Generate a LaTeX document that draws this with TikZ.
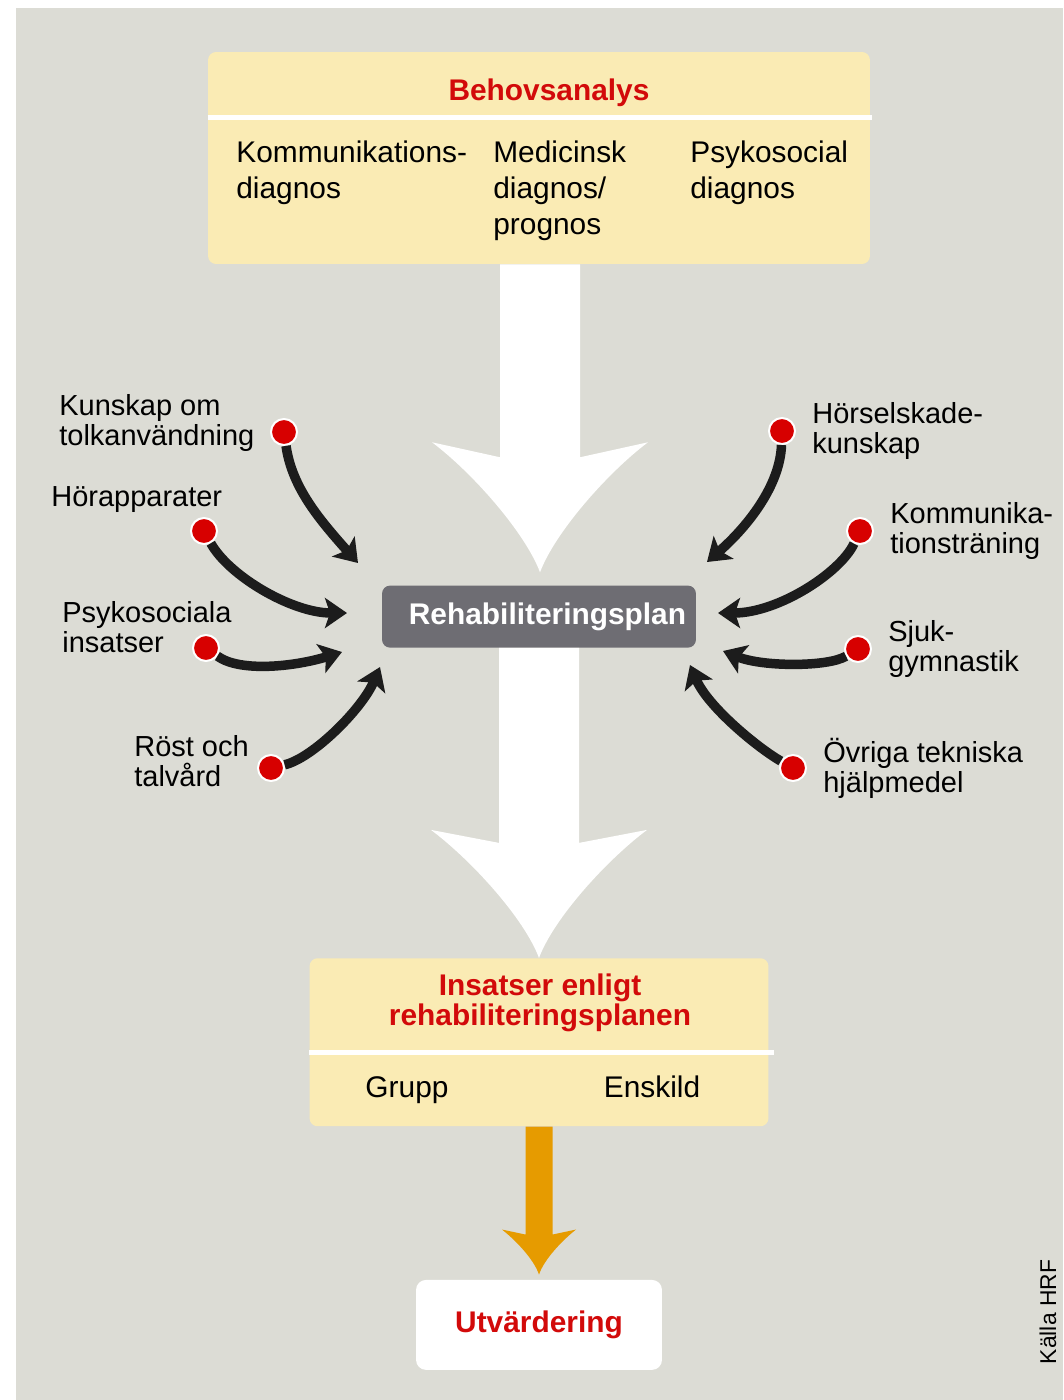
\documentclass[tikz,border=0pt]{standalone}
\usepackage{fontspec}
\setmainfont{Liberation Sans}
\usepackage{tikz}
\usetikzlibrary{positioning, calc, arrows.meta}
\definecolor{hrfGray}{RGB}{220,220,213}
\definecolor{hrfYellow}{RGB}{250,235,180}
\definecolor{hrfRed}{RGB}{210,10,10}
\definecolor{hrfSlate}{RGB}{110,109,115}
\definecolor{hrfDot}{RGB}{215,0,0}
\definecolor{hrfGold}{RGB}{230,155,0}
\definecolor{hrfInk}{RGB}{28,28,28}

\begin{document}
\begin{tikzpicture}[
    x=0.02cm, y=-0.02cm,
    panel/.style={rectangle, fill=hrfYellow, rounded corners=0.16cm, inner sep=0pt},
    heading/.style={text=hrfRed, inner sep=0pt, font=\fontsize{17}{17.5}\selectfont\bfseries},
    colText/.style={anchor=north west, align=left, inner sep=0pt,
                    font=\fontsize{17}{20.5}\selectfont},
    plan/.style={rectangle, fill=hrfSlate, rounded corners=0.16cm, minimum width=6.28cm,
                 minimum height=1.24cm, text=white, font=\fontsize{17}{17}\selectfont\bfseries},
    topic/.style={align=left, inner sep=0pt, font=\fontsize{16.5}{17}\selectfont},
    redDot/.style={circle, fill=hrfDot, draw=white, line width=0.04cm,
                   minimum size=0.52cm, inner sep=0pt},
    feed/.style={draw=hrfInk, line width=0.19cm,
                 -{Stealth[length=0.44cm, width=0.6cm, inset=0.1cm]}},
  ]
    \fill[white] (0,0) rectangle (1063,1400);
    \fill[hrfGray] (16,8) rectangle (1063,1400);
    \useasboundingbox (0,0) rectangle (1063,1400);

    \node[panel, minimum width=13.24cm, minimum height=4.24cm] (NEED) at (539,158) {};
    \node[plan, below=6.42cm of NEED] (PLAN) {\hspace*{0.34cm}Rehabiliteringsplan};
    \node[panel, minimum width=9.18cm, minimum height=3.36cm, below=6.2cm of PLAN] (ACTS) {};
    \node[panel, fill=white, rounded corners=0.2cm, minimum width=4.92cm, minimum height=1.8cm,
          text=hrfRed, font=\fontsize{17}{17}\selectfont\bfseries,
          below=3.06cm of ACTS] (EVAL) {Utvärdering};

    % Behovsanalys
    \draw[white, line width=0.1cm] ($(NEED.north west)+(0,66)$) -- ($(NEED.north east)+(2,66)$);
    \node[heading, anchor=base] (NEEDT) at (549,100) {Behovsanalys};
    \node[colText] (C1) at (236,140) {Kommunikations-\\diagnos};
    \node[colText] (C2) at (493,140) {Medicinsk\\diagnos/\\prognos};
    \node[colText] (C3) at (690,140) {Psykosocial\\diagnos};

    % Insatser
    \draw[white, line width=0.1cm] ($(ACTS.north west)+(0,95)$) -- ($(ACTS.north east)+(5,95)$);
    \node[heading, align=center, anchor=north] (ACTST) at (540,973)
         {Insatser enligt\\rehabiliteringsplanen};
    \node[topic, anchor=base, font=\fontsize{17}{17}\selectfont] (GRP) at (407,1097) {Grupp};
    \node[topic, anchor=base, font=\fontsize{17}{17}\selectfont] (ENS) at (652,1097) {Enskild};

    % big white flow arrows
    \coordinate (T1) at ($(PLAN.north)+(1,-13)$);
    \coordinate (T2) at (ACTS.north);
    \fill[white] ($(NEED.south -| T1)+(-40,0)$) -- ($(T1)+(-40,-115)$) -- ($(T1)+(-108,-130)$)
        .. controls +(40,30) and +(-15,-40) .. (T1)
        .. controls +(15,-40) and +(-40,30) .. ($(T1)+(108,-130)$)
        -- ($(T1)+(40,-115)$) -- ($(NEED.south -| T1)+(40,0)$) -- cycle;
    \fill[white] ($(PLAN.south -| T2)+(-40,0)$) -- ($(T2)+(-40,-115)$) -- ($(T2)+(-108,-128)$)
        .. controls +(40,30) and +(-15,-40) .. (T2)
        .. controls +(15,-40) and +(-40,30) .. ($(T2)+(108,-128)$)
        -- ($(T2)+(40,-115)$) -- ($(PLAN.south -| T2)+(40,0)$) -- cycle;

    % orange arrow to Utvärdering
    \coordinate (T3) at ($(EVAL.north)+(0,-5)$);
    \fill[hrfGold] ($(ACTS.south -| T3)+(-13.5,0)$) -- ($(T3)+(-13.5,-40)$) -- ($(T3)+(-37,-45)$)
        .. controls +(14,11) and +(-5,-15) .. (T3)
        .. controls +(5,-15) and +(-14,11) .. ($(T3)+(37,-45)$)
        -- ($(T3)+(13.5,-40)$) -- ($(ACTS.south -| T3)+(13.5,0)$) -- cycle;

    % inputs
    \node[redDot] (L1) at (284,432) {};
    \node[redDot] (L2) at (204,531) {};
    \node[redDot] (L3) at (206,648) {};
    \node[redDot] (L4) at (271,768) {};
    \node[redDot] (R1) at (782,431) {};
    \node[redDot] (R2) at (860,531) {};
    \node[redDot] (R3) at (858,649) {};
    \node[redDot] (R4) at (793,768) {};

    \node[topic, anchor=west] (L1T) at (59,423) {Kunskap om\\tolkanvändning};
    \node[topic, anchor=west] (L2T) at (51,500) {Hörapparater};
    \node[topic, anchor=west] (L3T) at (62,627) {Psykosociala\\insatser};
    \node[topic, anchor=west] (L4T) at (134,761) {Röst och\\talvård};
    \node[topic, right=0.32cm of R1] (R1T) {Hörselskade-\\kunskap};
    \node[topic, right=0.32cm of R2] (R2T) {Kommunika-\\tionsträning};
    \node[topic, right=0.32cm of R3] (R3T) {Sjuk-\\gymnastik};
    \node[topic, right=0.32cm of R4] (R4T) {Övriga tekniska\\hjälpmedel};

    \coordinate (L1e) at (358,563);
    \coordinate (L2e) at (347,613);
    \coordinate (L3e) at (342,652);
    \coordinate (L4e) at (380,667);
    \coordinate (R1e) at (707,562);
    \coordinate (R2e) at (718,613);
    \coordinate (R3e) at (723,651);
    \coordinate (R4e) at (690,665);

    \draw[feed] (L1) .. controls +(8,55) and +(-40,-45) .. (L1e);
    \draw[feed] (L2) .. controls +(25,45) and +(-55,0) .. (L2e);
    \draw[feed] (L3) .. controls +(35,25) and +(-45,14) .. (L3e);
    \draw[feed] (L4) .. controls +(42,-10) and +(-18,42) .. (L4e);
    \draw[feed] (R1) .. controls +(-2,55) and +(40,-35) .. (R1e);
    \draw[feed] (R2) .. controls +(-20,42) and +(60,0) .. (R2e);
    \draw[feed] (R3) .. controls +(-30,18) and +(40,16) .. (R3e);
    \draw[feed] (R4) .. controls +(-35,-20) and +(18,42) .. (R4e);

    \node[rotate=90, inner sep=0pt, font=\fontsize{13}{13}\selectfont] (SRC) at (1048,1312) {Källa HRF};
  \end{tikzpicture}
\end{document}
